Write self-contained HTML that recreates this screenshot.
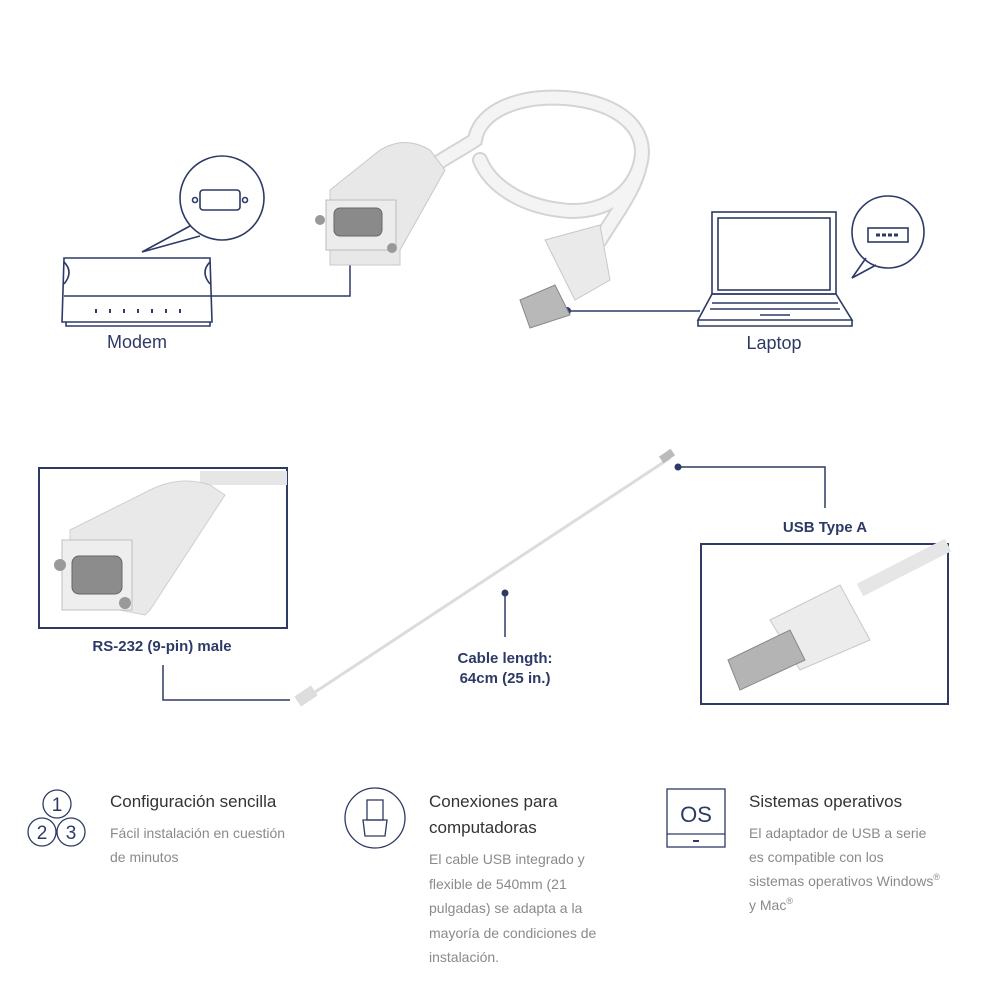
<!DOCTYPE html>
<html><head><meta charset="utf-8"><style>
html,body{margin:0;padding:0;background:#fff;}
svg{display:block;}
text{font-family:"Liberation Sans",sans-serif;}
</style></head><body>
<svg width="994" height="994" viewBox="0 0 994 994" xmlns="http://www.w3.org/2000/svg">
<g fill="none" stroke="#2e3a66" stroke-width="1.6">
<path d="M64 258 L210 258 L212 322 L62 322 Z"/>
<path d="M64 296 L212 296"/>
<path d="M64 262 q10 10 0 22"/><path d="M210 262 q-10 10 0 22"/>
<path d="M66 322 v4 h144 v-4"/>
<g stroke-width="2"><path d="M96 309v4M110 309v4M124 309v4M138 309v4M152 309v4M166 309v4M180 309v4"/></g>
<circle cx="222" cy="198" r="42"/>
<path d="M190 226 L142 252 L200 236"/>
<rect x="200" y="190" width="40" height="20" rx="3"/>
<circle cx="195" cy="200" r="2.5"/><circle cx="245" cy="200" r="2.5"/>
<rect x="712" y="212" width="124" height="82"/>
<rect x="718" y="218" width="112" height="72"/>
<path d="M712 294 L698 320 L852 320 L836 294 Z"/>
<path d="M698 320 v6 h154 v-6"/>
<path d="M712 303h126M710 309h130M760 315h30"/>
<circle cx="888" cy="232" r="36"/>
<path d="M866 258 L852 278 L876 265"/>
<rect x="868" y="228" width="40" height="14"/>
<path d="M876 235h24" stroke-dasharray="4 2" stroke-width="3"/>
</g>
<g fill="none" stroke="#2e3a66" stroke-width="1.5">
<path d="M212 296 H350 V255"/>
<path d="M567 311 H700"/>
<path d="M163 665 V700 H290"/>
<path d="M505 593 V637"/>
<path d="M678 467 H825 V508"/>
</g>
<g fill="#2e3a66"><circle cx="350" cy="255" r="4"/><circle cx="567" cy="311" r="4"/><circle cx="505" cy="593" r="3.5"/><circle cx="678" cy="467" r="3.5"/></g>
<!-- top cable loop -->
<g fill="none" stroke-linecap="round">
<path d="M420 175 C440 160 460 150 475 140 C480 110 520 95 565 98 C620 102 650 130 640 165 C630 200 595 215 560 210 C520 205 490 185 480 160 M640 165 C635 190 615 215 600 240" stroke="#d4d4d4" stroke-width="16"/>
<path d="M420 175 C440 160 460 150 475 140 C480 110 520 95 565 98 C620 102 650 130 640 165 C630 200 595 215 560 210 C520 205 490 185 480 160 M640 165 C635 190 615 215 600 240" stroke="#f4f4f4" stroke-width="12"/>
</g>
<path d="M330 190 L380 150 Q405 135 430 150 L445 170 L400 250 L400 265 L330 265 Z" fill="#e8e8e8" stroke="#c8c8c8"/>
<rect x="326" y="200" width="70" height="50" fill="#ececec" stroke="#bbb"/>
<rect x="334" y="208" width="48" height="28" rx="6" fill="#8a8a8a" stroke="#666"/>
<circle cx="320" cy="220" r="5" fill="#999"/><circle cx="392" cy="248" r="5" fill="#999"/>
<path d="M545 240 L600 225 L610 280 L575 300 Z" fill="#eaeaea" stroke="#c8c8c8"/>
<path d="M520 300 L555 285 L570 315 L530 328 Z" fill="#b8b8b8" stroke="#888"/>
<rect x="39" y="468" width="248" height="160" fill="none" stroke="#2e3a66" stroke-width="2"/>
<rect x="701" y="544" width="247" height="160" fill="none" stroke="#2e3a66" stroke-width="2"/>
<path d="M200 478 L287 478" stroke="#e6e6e6" stroke-width="14"/>
<path d="M70 530 L150 490 Q180 475 210 485 L225 495 L150 610 L145 615 L70 600 Z" fill="#e9e9e9" stroke="#cfcfcf"/>
<rect x="62" y="540" width="70" height="70" fill="#eeeeee" stroke="#c0c0c0"/>
<rect x="72" y="556" width="50" height="38" rx="7" fill="#8c8c8c" stroke="#666"/>
<circle cx="60" cy="565" r="6" fill="#999"/><circle cx="125" cy="603" r="6" fill="#999"/>
<path d="M860 590 L948 545" stroke="#e6e6e6" stroke-width="14"/>
<path d="M770 620 L840 585 L870 640 L800 670 Z" fill="#ececec" stroke="#c8c8c8"/>
<path d="M728 660 L790 630 L805 660 L740 690 Z" fill="#b4b4b4" stroke="#888"/>
<path d="M303 700 L670 458" stroke="#dcdcdc" stroke-width="3"/>
<rect x="296" y="690" width="20" height="12" fill="#ddd" transform="rotate(-34 306 696)"/>
<rect x="660" y="452" width="14" height="8" fill="#bbb" transform="rotate(-34 667 456)"/>
<g fill="#2e3a66" font-size="18" text-anchor="middle">
<text x="137" y="348">Modem</text>
<text x="774" y="349">Laptop</text>
</g>
<g fill="#2e3a66" font-size="15" text-anchor="middle" font-weight="bold">
<text x="162" y="651">RS-232 (9-pin) male</text>
<text x="505" y="663">Cable length:</text>
<text x="505" y="683">64cm (25 in.)</text>
<text x="825" y="532">USB Type A</text>
</g>
<g fill="none" stroke="#2e3a66" stroke-width="1.3">
<circle cx="57" cy="804" r="14"/><circle cx="42" cy="832" r="14"/><circle cx="71" cy="832" r="14"/>
<circle cx="375" cy="818" r="30"/>
<rect x="367" y="800" width="16" height="20"/><path d="M363 820 h24 l-2 16 h-20 z"/>
<rect x="667" y="789" width="58" height="58"/><path d="M667 834 h58"/>
</g>
<g fill="#2e3a66" font-size="19" text-anchor="middle">
<text x="57" y="811">1</text><text x="42" y="839">2</text><text x="71" y="839">3</text>
<text x="696" y="822" font-size="22">OS</text>
</g>
<rect x="693" y="840" width="6" height="2" fill="#2e3a66"/>
<g fill="#333" font-size="17">
<text x="110" y="807">Configuración sencilla</text>
<text x="429" y="807">Conexiones para</text>
<text x="429" y="833">computadoras</text>
<text x="749" y="807">Sistemas operativos</text>
</g>
<g fill="#8a8a8a" font-size="14">
<text x="110" y="838">Fácil instalación en cuestión</text>
<text x="110" y="862">de minutos</text>
<text x="429" y="864">El cable USB integrado y</text>
<text x="429" y="889">flexible de 540mm (21</text>
<text x="429" y="913">pulgadas) se adapta a la</text>
<text x="429" y="938">mayoría de condiciones de</text>
<text x="429" y="962">instalación.</text>
<text x="749" y="838">El adaptador de USB a serie</text>
<text x="749" y="862">es compatible con los</text>
<text x="749" y="886">sistemas operativos Windows<tspan font-size="9" dy="-6">®</tspan></text>
<text x="749" y="910">y Mac<tspan font-size="9" dy="-6">®</tspan></text>
</g>
</svg>
</body></html>
